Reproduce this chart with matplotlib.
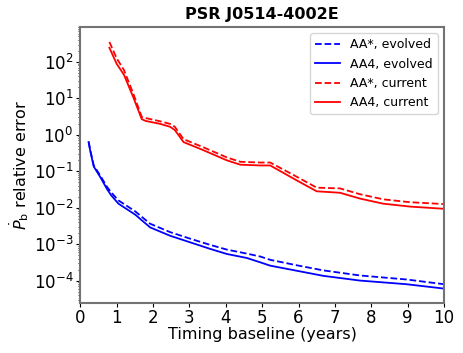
import numpy as np
import matplotlib.pyplot as plt

# values (log10 of relative error)
t_cur = [0.80, 1.0, 1.2, 1.45, 1.69, 1.8, 2.2, 2.47, 2.6, 2.84, 3.38, 4.03, 4.4, 4.95, 5.22, 5.95, 6.5, 7.14, 7.69, 8.33, 9.07, 10.0]
aa4_cur = [2.39, 1.95, 1.65, 1.05, 0.43, 0.38, 0.30, 0.22, 0.13, -0.20, -0.42, -0.70, -0.82, -0.84, -0.84, -1.25, -1.55, -1.59, -1.75, -1.89, -1.97, -2.03]
aas_cur = [2.55, 2.10, 1.78, 1.15, 0.49, 0.46, 0.37, 0.30, 0.22, -0.12, -0.34, -0.62, -0.74, -0.76, -0.76, -1.15, -1.45, -1.47, -1.63, -1.77, -1.85, -1.90]

t_evo = [0.23, 0.27, 0.37, 0.55, 0.73, 0.85, 1.05, 1.51, 1.92, 2.47, 3.02, 3.57, 4.03, 4.58, 4.95, 5.22, 5.95, 6.68, 7.69, 8.97, 10.0]
aa4_evo = [-0.20, -0.42, -0.87, -1.16, -1.48, -1.66, -1.89, -2.19, -2.54, -2.77, -2.95, -3.13, -3.27, -3.38, -3.50, -3.59, -3.73, -3.87, -4.00, -4.10, -4.22]
aas_evo = [-0.19, -0.40, -0.84, -1.12, -1.42, -1.58, -1.80, -2.10, -2.44, -2.67, -2.85, -3.02, -3.15, -3.26, -3.34, -3.43, -3.58, -3.72, -3.86, -3.97, -4.10]

plt.rcParams['font.family'] = 'DejaVu Sans'
fig = plt.figure(figsize=(4.64, 3.53), dpi=100)
ax = fig.add_axes([0.173, 0.143, 0.784, 0.78])

ax.plot(t_evo, 10**np.array(aas_evo), '--b', lw=1.3, label='AA*, evolved')
ax.plot(t_evo, 10**np.array(aa4_evo), 'b', lw=1.3, label='AA4, evolved')
ax.plot(t_cur, 10**np.array(aas_cur), '--r', lw=1.3, label='AA*, current')
ax.plot(t_cur, 10**np.array(aa4_cur), 'r', lw=1.3, label='AA4, current')

ax.set_yscale('log')
ax.set_xlim(0, 10)
ax.set_ylim(2.5e-5, 900)
ax.set_xticks(range(11))
ax.tick_params(labelsize=12, length=3, pad=2)
ax.tick_params(which='minor', length=1.5)
for s in ax.spines.values():
    s.set_color('0.45')
    s.set_linewidth(1.5)

ax.set_xlabel('Timing baseline (years)', fontsize=11.5, labelpad=0)
ax.set_ylabel(r'$\dot{P}_\mathrm{b}$ relative error', fontsize=11.5, labelpad=2)
ax.set_title('PSR J0514-4002E', fontsize=11.5, fontweight='bold')
ax.legend(loc='upper right', fontsize=9)

fig.savefig('out.png')
